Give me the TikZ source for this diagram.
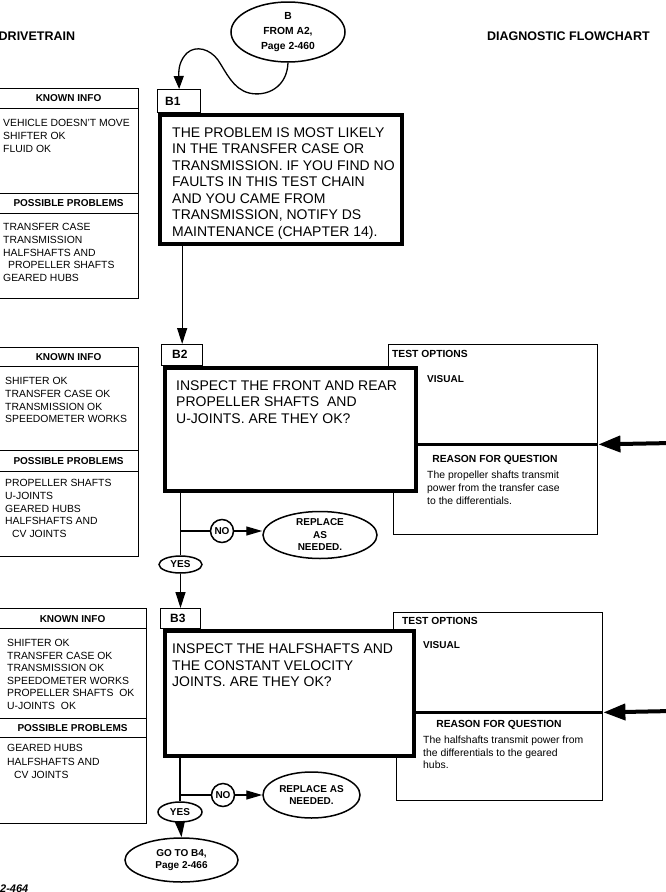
\documentclass[tikz,border=0pt]{standalone}
\usepackage{fontspec}
\setmainfont{Liberation Sans}
\usetikzlibrary{shapes.geometric,arrows.meta,calc}
\begin{document}
\begin{tikzpicture}[x=1pt,y=-1pt,
  lbox/.style={draw,line width=1.1pt,inner sep=0pt,anchor=north west,fill=white},
  hdr/.style={lbox,font=\bfseries\fontsize{10}{12}\selectfont},
  ltext/.style={anchor=north west,inner sep=0pt,align=left,font=\fontsize{10.4}{12.7}\selectfont},
  qtext/.style={anchor=north west,inner sep=0pt,align=left,font=\fontsize{14}{16.5}\selectfont},
  mainbox/.style={draw,line width=3.8pt,inner sep=0pt,anchor=north west,fill=white},
  labbox/.style={draw,line width=1.3pt,inner sep=0pt,anchor=north west,fill=white},
  labtext/.style={anchor=west,inner sep=0pt,font=\bfseries\fontsize{12}{14}\selectfont},
  testbox/.style={draw,line width=1.4pt,inner sep=0pt,anchor=north west},
  ttext/.style={inner sep=0pt,font=\bfseries\fontsize{10.3}{12.5}\selectfont},
  etext/.style={anchor=north west,inner sep=0pt,align=left,font=\fontsize{10.4}{12.5}\selectfont},
  oval/.style={draw,ellipse,line width=1.5pt,inner sep=0pt,align=center,fill=white,font=\bfseries\fontsize{10}{12.5}\selectfont},
  conn/.style={line width=1.3pt},
  arr/.style={conn,-{Triangle[length=16pt,width=10pt]}},
  sarr/.style={conn,-{Triangle[length=16pt,width=9pt]}},
  bigarr/.style={line width=4pt,-{Triangle[length=22pt,width=16pt]}},
  titletext/.style={anchor=west,inner sep=0pt,font=\bfseries\fontsize{12.5}{14}\selectfont}
]
\fill[white] (0,0) rectangle (665,892);
\useasboundingbox (0,0) rectangle (665,892);

% titles
\node[titletext] (ttl) at (-1.5,36) {DRIVETRAIN};
\node[titletext] (ttr) at (487,36) {DIAGNOSTIC FLOWCHART};
\node[anchor=north west,inner sep=0pt,font=\bfseries\itshape\fontsize{11}{13}\selectfont] (pg) at (0,885) {2-464};

% ---------- left column B1
\node[hdr,minimum width=140,minimum height=20] (k1h) at (-2,88) {KNOWN INFO};
\node[lbox,minimum width=140,minimum height=85] (k1c) at (-2,108) {};
\node[hdr,minimum width=140,minimum height=20] (p1h) at (-2,193) {POSSIBLE PROBLEMS};
\node[lbox,minimum width=140,minimum height=85] (p1c) at (-2,213) {};
\node[ltext] (k1t) at (3,119.3) {VEHICLE DOESN'T MOVE\\SHIFTER OK\\FLUID OK};
\node[ltext] (p1t) at (3,223.3) {TRANSFER CASE\\TRANSMISSION\\HALFSHAFTS AND\\\hspace*{5pt}PROPELLER SHAFTS\\GEARED HUBS};

% ---------- left column B2
\node[hdr,minimum width=140,minimum height=19] (k2h) at (-2,347) {KNOWN INFO};
\node[lbox,minimum width=140,minimum height=84] (k2c) at (-2,366) {};
\node[hdr,minimum width=140,minimum height=21] (p2h) at (-2,450) {POSSIBLE PROBLEMS};
\node[lbox,minimum width=140,minimum height=85] (p2c) at (-2,471) {};
\node[ltext] (k2t) at (5,377.3) {SHIFTER OK\\TRANSFER CASE OK\\TRANSMISSION OK\\SPEEDOMETER WORKS};
\node[ltext] (p2t) at (5,479.3) {PROPELLER SHAFTS\\U-JOINTS\\GEARED HUBS\\HALFSHAFTS AND\\\hspace*{7pt}CV JOINTS};

% ---------- left column B3
\node[hdr,minimum width=148,minimum height=20] (k3h) at (-2,608) {KNOWN INFO};
\node[lbox,minimum width=148,minimum height=90] (k3c) at (-2,628) {};
\node[hdr,minimum width=148,minimum height=19] (p3h) at (-2,718) {POSSIBLE PROBLEMS};
\node[lbox,minimum width=148,minimum height=86] (p3c) at (-2,737) {};
\node[ltext,font=\fontsize{10.4}{12.5}\selectfont] (k3t) at (7,639.3) {SHIFTER OK\\TRANSFER CASE OK\\TRANSMISSION OK\\SPEEDOMETER WORKS\\PROPELLER SHAFTS~~OK\\U-JOINTS~~OK};
\node[ltext,font=\fontsize{10.4}{13.3}\selectfont] (p3t) at (7,744.3) {GEARED HUBS\\HALFSHAFTS AND\\\hspace*{7pt}CV JOINTS};

% ---------- test option boxes
\node[testbox,minimum width=209,minimum height=99] (to2) at (388,344) {};
\node[testbox,minimum width=204,minimum height=91] (rq2) at (393,443) {};
\draw[line width=2.6pt] (to2.south west) -- (to2.south east);
\node[ttext,anchor=west] (to2t) at (392,354) {TEST OPTIONS};
\node[ttext,anchor=west,font=\bfseries\fontsize{10}{12}\selectfont] (vi2) at (427,379) {VISUAL};
\node[ttext] (rq2t) at (495,460) {REASON FOR QUESTION};
\node[etext,font=\fontsize{10.4}{13}\selectfont] (ex2) at (427,471.2) {The propeller shafts transmit\\power from the transfer case\\to the differentials.};

\node[testbox,minimum width=209,minimum height=99] (to3) at (393,612) {};
\node[testbox,minimum width=206,minimum height=89] (rq3) at (396,711) {};
\draw[line width=2.6pt] (to3.south west) -- (to3.south east);
\node[ttext,anchor=west] (to3t) at (402,621) {TEST OPTIONS};
\node[ttext,anchor=west,font=\bfseries\fontsize{10}{12}\selectfont] (vi3) at (423,645) {VISUAL};
\node[ttext] (rq3t) at (499,725) {REASON FOR QUESTION};
\node[etext] (ex3) at (423,736.2) {The halfshafts transmit power from\\the differentials to the geared\\hubs.};

% ---------- main boxes
\node[labbox,minimum width=43,minimum height=23] (b1lab) at (157,89) {};
\node[labtext] (b1l) at (165,101) {B1};
\node[mainbox,minimum width=242,minimum height=129] (b1) at (158,113) {};
\node[qtext] (b1t) at (172,127.5) {THE PROBLEM IS MOST LIKELY\\IN THE TRANSFER CASE OR\\TRANSMISSION. IF YOU FIND NO\\FAULTS IN THIS TEST CHAIN\\AND YOU CAME FROM\\TRANSMISSION, NOTIFY DS\\MAINTENANCE (CHAPTER 14).};

\node[labbox,minimum width=41,minimum height=21] (b2lab) at (161,344) {};
\node[labtext] (b2l) at (172,354.5) {B2};
\node[mainbox,minimum width=251,minimum height=123] (b2) at (163,366) {};
\node[qtext] (b2t) at (176,380.5) {INSPECT THE FRONT AND REAR\\PROPELLER SHAFTS~~AND\\U-JOINTS. ARE THEY OK?};

\node[labbox,minimum width=40,minimum height=20] (b3lab) at (160,608) {};
\node[labtext] (b3l) at (170,618) {B3};
\node[mainbox,minimum width=249,minimum height=125] (b3) at (163,629) {};
\node[qtext] (b3t) at (172,644) {INSPECT THE HALFSHAFTS AND\\THE CONSTANT VELOCITY\\JOINTS. ARE THEY OK?};

% ---------- ovals
\node[oval,minimum width=114,minimum height=60,font=\bfseries\fontsize{10.3}{15}\selectfont] (ovalB) at (288,32) {B\\FROM A2,\\Page 2-460};
\node[oval,minimum width=114,minimum height=47] (rep2) at (320,535) {REPLACE\\AS\\NEEDED.};
\node[oval,minimum width=23,minimum height=23] (no2) at (222,531) {NO};
\node[oval,minimum width=43,minimum height=17] (yes2) at (180.5,564.5) {YES};
\node[oval,minimum width=97,minimum height=46] (rep3) at (311.5,795) {REPLACE AS\\NEEDED.};
\node[oval,minimum width=23,minimum height=23] (no3) at (223,795) {NO};
\node[oval,minimum width=44,minimum height=20] (yes3) at (180,812) {YES};
\node[oval,minimum width=113,minimum height=44] (go) at (181.5,860) {GO TO B4,\\Page 2-466};

% ---------- connectors
\draw[conn,-{Triangle[length=13pt,width=10pt]}] (ovalB.south)
   .. controls (287,88) and (266,97) .. (249,93)
   .. controls (233,89) and (226,72) .. (218,60)
   .. controls (210,49) and (196,45) .. (187,53)
   .. controls (180,60) and (178.5,68) .. (b1lab.north);
\draw[arr] (b2lab.north |- b1.south) -- (b2lab.north);

\coordinate (br2) at (yes2.north |- no2.west);
\draw[conn] (yes2.north |- b2.south) -- (yes2.north);
\draw[conn] (br2) -- (no2.west);
\draw[sarr] (no2.east) -- (no2.east -| rep2.west);
\draw[arr] (yes2.south) -- (yes2.south |- b3lab.north);

\coordinate (br3) at (yes3.north |- no3.west);
\draw[conn] (yes3.north |- b3.south) -- (yes3.north);
\draw[conn] (br3) -- (no3.west);
\draw[sarr] (no3.east) -- (rep3.west);
\draw[arr] (yes3.south) -- (go.north);

\coordinate (ar2) at (672,443);
\coordinate (ar3) at (672,711);
\draw[bigarr] (ar2) -- (to2.south east);
\draw[bigarr] (ar3) -- (to3.south east);
\end{tikzpicture}
\end{document}
